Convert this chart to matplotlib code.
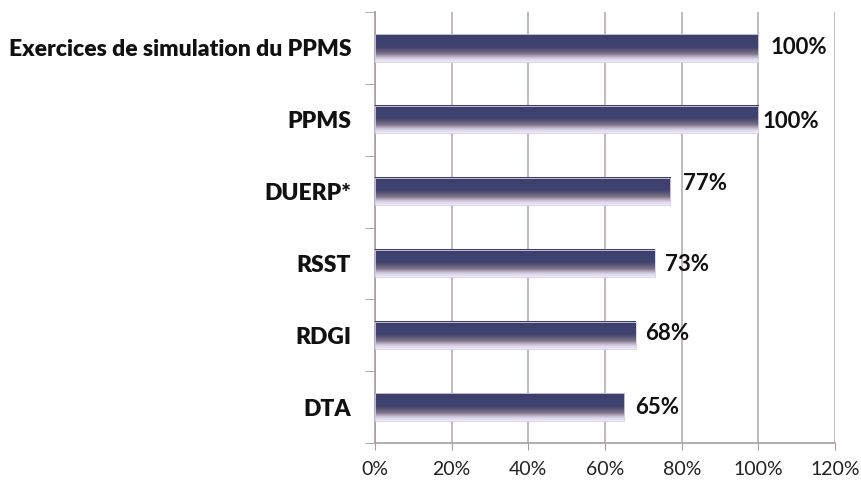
import numpy as np
import matplotlib.pyplot as plt
from matplotlib.colors import LinearSegmentedColormap

categories = ['Exercices de simulation du PPMS', 'PPMS', 'DUERP*', 'RSST', 'RDGI', 'DTA']
values = [100, 100, 77, 73, 68, 65]
value_labels = ['100%', '100%', '77%', '73%', '68%', '65%']
x_ticks = [0, 20, 40, 60, 80, 100, 120]

# label offsets in points (x, y), the original places them a bit unevenly
label_offsets = [(9, 0), (3, -1), (9, 6), (7, -1), (7, 1), (8, 0)]

plt.rcParams['font.family'] = ['Lato', 'DejaVu Sans']

fig = plt.figure(figsize=(8.61, 4.83), dpi=100)
ax = fig.add_axes([0.4355, 0.0828, 0.5345, 0.8922])

y = np.arange(len(categories))
bars = ax.barh(y, values, height=0.38, color='none', edgecolor='none', zorder=3)

# vertical gradient: dark navy top -> pale lavender bottom
cmap = LinearSegmentedColormap.from_list('grad', [
    (0.0, '#3c3f6c'), (0.48, '#41446f'), (0.7, '#7c7286'), (0.88, '#d8d2e6'), (1.0, '#eeeaf8')])
grad = np.linspace(0, 1, 100).reshape(-1, 1)
for b in bars:
    x0, y0, w, h = b.get_x(), b.get_y(), b.get_width(), b.get_height()
    ax.imshow(grad, aspect='auto', cmap=cmap, origin='upper',
              extent=[x0, x0 + w, y0 + h, y0], zorder=3, interpolation='bilinear')
    ax.add_patch(plt.Rectangle((x0, y0), w, h, fill=False, edgecolor='#d4d0ee', lw=0.6, zorder=4))

for i, (v, lab) in enumerate(zip(values, value_labels)):
    ax.annotate(lab, (v, y[i]), xytext=label_offsets[i], textcoords='offset points',
                ha='left', va='center', fontsize=16, fontweight='bold', color='#111111')

ax.set_xlim(0, 120)
ax.set_ylim(len(categories) - 0.5, -0.5)
ax.set_xticks(x_ticks)
ax.set_xticklabels([f'{t}%' for t in x_ticks], fontsize=14, color='#222222')
ax.set_yticks(y)
ax.set_yticklabels(categories, fontsize=16.5, fontweight='heavy', color='#111111')
ax.set_yticks(np.arange(-0.5, len(categories), 1), minor=True)

ax.tick_params(axis='y', which='major', length=0, pad=17)
ax.tick_params(axis='y', which='minor', length=7, color='#a89ca4', direction='out')
ax.tick_params(axis='x', length=5, color='#a89ca4', direction='out', pad=8)

ax.grid(axis='x', color='#b9abb3', lw=1.2, zorder=0)
ax.set_axisbelow(True)
for s in ['top', 'right']:
    ax.spines[s].set_visible(False)
for s in ['left', 'bottom']:
    ax.spines[s].set_color('#a89ca4')
    ax.spines[s].set_linewidth(1.2)

fig.savefig('out.png', dpi=100)
